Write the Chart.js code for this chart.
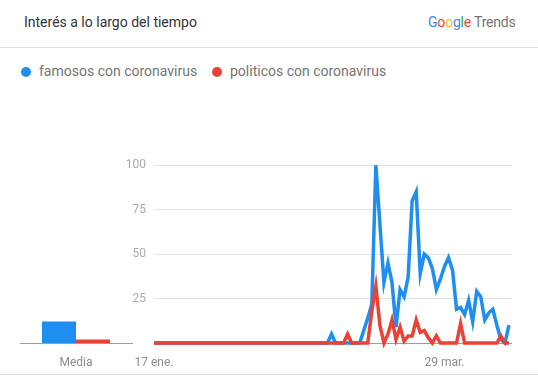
<!DOCTYPE html>
<html><head><meta charset="utf-8">
<script src="https://cdn.jsdelivr.net/npm/chart.js@4/dist/chart.umd.min.js"></script>
<style>
html,body{margin:0;padding:0;background:#fff;}
body{width:538px;height:379px;position:relative;overflow:hidden;font-family:Roboto,Arial,sans-serif;}
.title{position:absolute;left:24px;top:13px;font-size:14px;line-height:18px;color:#333;white-space:nowrap;}
.logo{position:absolute;left:428px;top:13px;font-size:14px;line-height:18px;white-space:nowrap;letter-spacing:-0.2px;}
.hr{position:absolute;left:0;width:538px;height:1px;background:#e0e0e0;}
.leg{position:absolute;top:62px;font-size:14px;line-height:18px;color:#757575;white-space:nowrap;}
.dot{position:absolute;width:10px;height:10px;border-radius:50%;top:67px;}
canvas{position:absolute;}
</style></head>
<body>
<div class="title">Interés a lo largo del tiempo</div>
<div class="logo"><span style="color:#4285f4">G</span><span style="color:#ea4335">o</span><span style="color:#fbbc05">o</span><span style="color:#4285f4">g</span><span style="color:#34a853">l</span><span style="color:#ea4335">e</span> <span style="color:#757575">Trends</span></div>
<div class="hr" style="top:47px"></div>
<div class="dot" id="d0" style="left:21px"></div>
<div class="leg" id="l0" style="left:39px"></div>
<div class="dot" id="d1" style="left:212px"></div>
<div class="leg" id="l1" style="left:230px"></div>
<canvas id="media" width="140" height="220" style="left:0;top:150px;width:140px;height:220px"></canvas>
<canvas id="main" width="430" height="220" style="left:100px;top:150px;width:430px;height:220px"></canvas>
<div class="hr" style="top:374px"></div>
<script>
const seriesNames = ['famosos con coronavirus', 'politicos con coronavirus'];
const seriesColors = ['#1f8ef1', '#ea4335'];
const xTickPos = [0, 72];
const xTickLabels = ['17 ene.', '29 mar.'];
const mediaLabel = ['Media'];
const mediaValues = [12, 2];
const famosos = [
 0,0,0,0,0,0,0,0,0,0,
 0,0,0,0,0,0,0,0,0,0,
 0,0,0,0,0,0,0,0,0,0,
 0,0,0,0,0,0,0,0,0,0,
 0,0,0,0,5,0,0,0,0,0,
 0,0,7,14,22,100,67,34,45,34,
 9,30,26,37,80,85,39,50,48,42,
 30,36,43,48,41,19,20,16,24,12,
 29,26,13,17,19,10,2,0,10];
const politicos = [
 0,0,0,0,0,0,0,0,0,0,
 0,0,0,0,0,0,0,0,0,0,
 0,0,0,0,0,0,0,0,0,0,
 0,0,0,0,0,0,0,0,0,0,
 0,0,0,0,0,0,0,0,5,0,
 0,0,0,0,18,32,10,0,5,13,
 2,9,1,4,4,13,6,7,3,0,
 4,0,0,0,0,0,11,0,0,0,
 0,0,0,0,0,0,4,0,0];

document.getElementById('d0').style.background = seriesColors[0];
document.getElementById('d1').style.background = seriesColors[1];
document.getElementById('l0').textContent = seriesNames[0];
document.getElementById('l1').textContent = seriesNames[1];

const font = {family:'Roboto', size:12};

new Chart(document.getElementById('main'), {
  type:'line',
  data:{datasets:[
    {label:seriesNames[0], data:famosos.map((v,i)=>({x:i,y:v})), borderColor:seriesColors[0], borderWidth:3.5, pointRadius:0, tension:0, order:2, clip:6, fill:false},
    {label:seriesNames[1], data:politicos.map((v,i)=>({x:i,y:v})), borderColor:seriesColors[1], borderWidth:3.5, pointRadius:0, tension:0, order:1, clip:6, fill:false}
  ]},
  options:{
    responsive:false, animation:false, events:[],
    layout:{padding:{top:14,right:18,left:0,bottom:0}},
    plugins:{legend:{display:false}, tooltip:{enabled:false}},
    scales:{
      x:{type:'linear', min:0, max:88.75, grid:{display:false}, border:{display:false},
        afterBuildTicks:(s)=>{s.ticks = xTickPos.map(v=>({value:v}));},
        ticks:{autoSkip:false, maxRotation:0, padding:5, color:'#8c8c8c', font:font,
          callback:(v)=>{const k = xTickPos.indexOf(v); return k>=0 ? xTickLabels[k] : '';}},
        afterFit:(s)=>{s.height=27;}},
      y:{min:0, max:100, border:{display:false},
        ticks:{stepSize:25, padding:8, color:'#aaaaaa', font:font, callback:(v)=> v===0 ? '' : v},
        grid:{color:(c)=> c.tick && c.tick.value===0 ? '#9e9e9e' : '#e3e3e3', drawTicks:false, lineWidth:1},
        afterFit:(s)=>{s.width=54;}}
    }
  }
});

new Chart(document.getElementById('media'), {
  type:'bar',
  data:{labels:mediaLabel, datasets:[
    {label:seriesNames[0], data:[mediaValues[0]], backgroundColor:seriesColors[0]},
    {label:seriesNames[1], data:[mediaValues[1]], backgroundColor:seriesColors[1]}
  ]},
  options:{
    responsive:false, animation:false, events:[],
    layout:{padding:{top:14,right:8,left:20,bottom:0}},
    plugins:{legend:{display:false}, tooltip:{enabled:false}},
    datasets:{bar:{categoryPercentage:0.607, barPercentage:1}},
    scales:{
      x:{grid:{display:false}, border:{display:true, color:'#9e9e9e', width:1},
        ticks:{padding:5, color:'#8c8c8c', font:font}, afterFit:(s)=>{s.height=27;}},
      y:{display:false, min:0, max:100}
    }
  }
});
</script>
</body></html>
